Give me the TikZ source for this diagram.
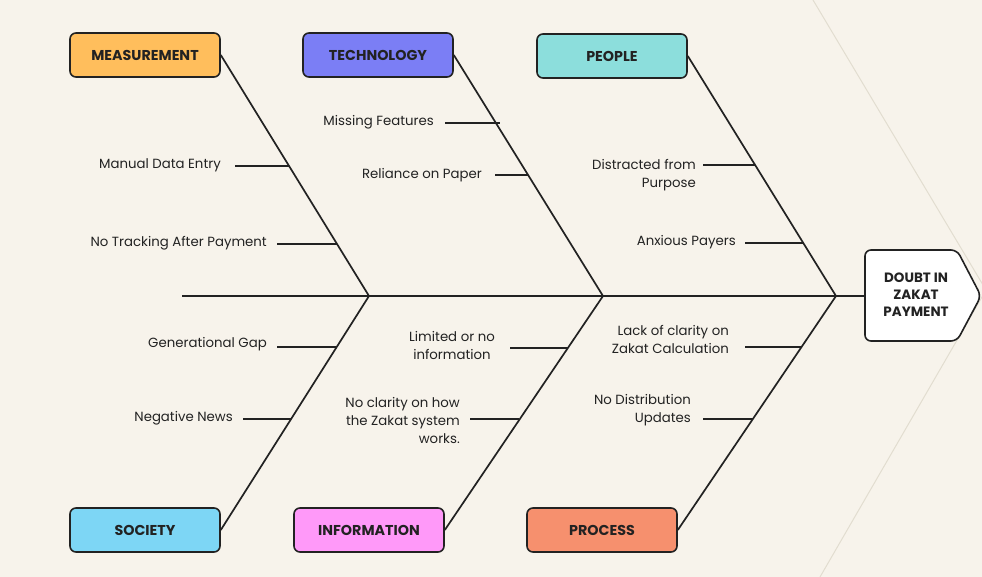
\documentclass[tikz,border=0pt]{standalone}
\usepackage{fontspec}
\setmainfont{Poppins}
\definecolor{paper}{HTML}{F7F3EB}
\definecolor{ink}{HTML}{222222}
\definecolor{faint}{HTML}{E2DDD0}
\definecolor{measurecol}{HTML}{FFBE5C}
\definecolor{techcol}{HTML}{7B7EF5}
\definecolor{peoplecol}{HTML}{8CDEDC}
\definecolor{societycol}{HTML}{7DD6F5}
\definecolor{infocol}{HTML}{FF99F9}
\definecolor{processcol}{HTML}{F6906E}
\tikzset{
  catbox/.style={draw=ink, line width=1.6pt, rounded corners=6pt,
    minimum width=150pt, minimum height=44pt, inner sep=0pt,
    font=\fontsize{14.3}{16}\selectfont\bfseries, text=ink},
  cause/.style={inner sep=0pt, font=\fontsize{13.3}{18}\selectfont, text=ink},
  bone/.style={draw=ink, line width=1.7pt},
  tick/.style={draw=ink, line width=1.7pt}
}
\begin{document}
\begin{tikzpicture}[x=1pt, y=-1pt]
                \useasboundingbox (0,0) rectangle (982,577);
                \fill [paper] (0,0) rectangle (982,577);
                \clip (0,0) rectangle (982,577);

                % Faint chevron behind the head
                \draw [faint, line width=1pt] (813,0) -- (986,290) -- (820,577);

                % Category boxes
                \node [catbox, fill=measurecol] (mea) at (145,55) {MEASUREMENT};
                \node [catbox, fill=techcol] (tec) at (378,55) {TECHNOLOGY};
                \node [catbox, fill=peoplecol] (peo) at (612,56) {PEOPLE};
                \node [catbox, fill=societycol] (soc) at (145,530) {SOCIETY};
                \node [catbox, fill=infocol] (inf) at (369,530) {INFORMATION};
                \node [catbox, fill=processcol] (pro) at (602,530) {PROCESS};

                % Head of the fish
                \draw [ink, fill=white, line width=1.6pt, rounded corners=6pt]
                  (865,250) -- (957,250) -- (981,296) -- (957,341) -- (865,341) -- cycle;
                \node [align=center, inner sep=0pt, text=ink,
                  font=\fontsize{13.5}{17}\selectfont\bfseries] (head) at (916,295)
                  {DOUBT IN\\ZAKAT\\PAYMENT};

                % Spine and junctions
                \coordinate (tail) at (182,296);
                \coordinate (j1) at (369,296);
                \coordinate (j2) at (603,296);
                \coordinate (j3) at (836,296);
                \coordinate (headw) at (865,296);
                \draw [bone] (tail) -- (headw);

                % Drawing bones
                \draw [bone] (mea.east) -- (j1);
                \draw [bone] (tec.east) -- (j2);
                \draw [bone] (peo.east) -- (j3);
                \draw [bone] (soc.east) -- (j1);
                \draw [bone] (inf.east) -- (j2);
                \draw [bone] (pro.east) -- (j3);

                % Measurement causes
                \node [cause, anchor=east] (m1) at (221,165) {Manual Data Entry};
                \coordinate (m1a) at (235,166);
                \coordinate (m1b) at (289,166);
                \draw [tick] (m1a) -- (m1b);
                \node [cause, anchor=east] (m2) at (267,243) {No Tracking After Payment};
                \coordinate (m2a) at (277,244);
                \coordinate (m2b) at (337,244);
                \draw [tick] (m2a) -- (m2b);

                % Technology causes
                \node [cause, anchor=east] (t1) at (434,122) {Missing Features};
                \coordinate (t1a) at (445,123);
                \coordinate (t1b) at (500,123);
                \draw [tick] (t1a) -- (t1b);
                \node [cause, anchor=east] (t2) at (482,175) {Reliance on Paper};
                \coordinate (t2a) at (495,175);
                \coordinate (t2b) at (528,175);
                \draw [tick] (t2a) -- (t2b);

                % People causes
                \node [cause, anchor=east, align=right] (p1) at (696,175) {Distracted from\\Purpose};
                \coordinate (p1a) at (703,165);
                \coordinate (p1b) at (755,165);
                \draw [tick] (p1a) -- (p1b);
                \node [cause, anchor=east] (p2) at (736,242) {Anxious Payers};
                \coordinate (p2a) at (745,243);
                \coordinate (p2b) at (803,243);
                \draw [tick] (p2a) -- (p2b);

                % Society causes
                \node [cause, anchor=east] (s1) at (267,344) {Generational Gap};
                \coordinate (s1a) at (277,347);
                \coordinate (s1b) at (336,347);
                \draw [tick] (s1a) -- (s1b);
                \node [cause, anchor=east] (s2) at (233,418) {Negative News};
                \coordinate (s2a) at (243,419);
                \coordinate (s2b) at (291,419);
                \draw [tick] (s2a) -- (s2b);

                % Information causes
                \node [cause, align=center] (i1) at (452,345) {Limited or no\\information};
                \coordinate (i1a) at (510,348);
                \coordinate (i1b) at (568,348);
                \draw [tick] (i1a) -- (i1b);
                \node [cause, anchor=east, align=right] (i2) at (460,420) {No clarity on how\\the Zakat system\\works.};
                \coordinate (i2a) at (470,419);
                \coordinate (i2b) at (519,419);
                \draw [tick] (i2a) -- (i2b);

                % Process causes
                \node [cause, anchor=east, align=right] (r1) at (729,339) {Lack of clarity on\\Zakat Calculation};
                \coordinate (r1a) at (745,347);
                \coordinate (r1b) at (802,347);
                \draw [tick] (r1a) -- (r1b);
                \node [cause, anchor=east, align=right] (r2) at (691,410) {No Distribution\\Updates};
                \coordinate (r2a) at (703,419);
                \coordinate (r2b) at (753,419);
                \draw [tick] (r2a) -- (r2b);
\end{tikzpicture}
\end{document}
